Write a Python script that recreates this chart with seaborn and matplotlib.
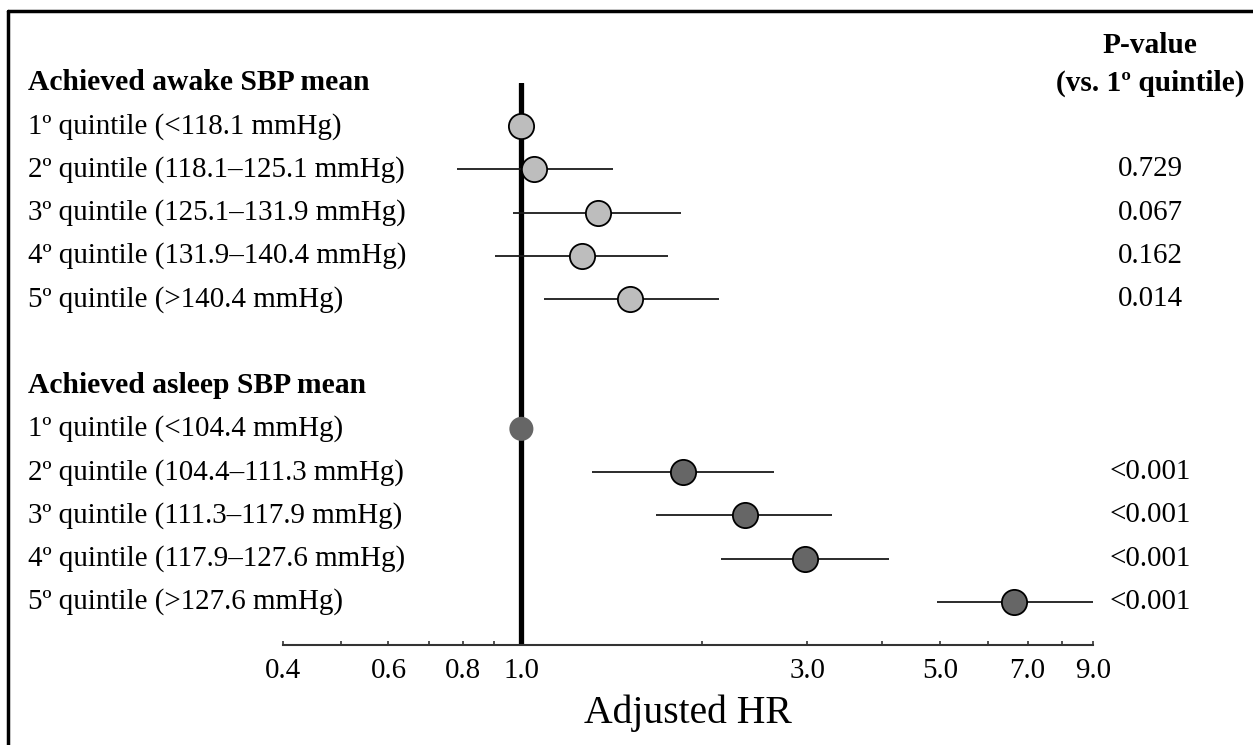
import numpy as np
import pandas as pd
import matplotlib
matplotlib.use('Agg')
import matplotlib.pyplot as plt
import matplotlib.transforms as mtransforms
from matplotlib.lines import Line2D
import seaborn as sns

# Data
awake_labels = ['1º quintile (<118.1 mmHg)', '2º quintile (118.1–125.1 mmHg)',
                '3º quintile (125.1–131.9 mmHg)', '4º quintile (131.9–140.4 mmHg)',
                '5º quintile (>140.4 mmHg)']
awake_hr = [1.00, 1.05, 1.34, 1.26, 1.52]
awake_lo = [np.nan, 0.78, 0.97, 0.905, 1.09]
awake_hi = [np.nan, 1.42, 1.85, 1.76, 2.14]
awake_p = ['', '0.729', '0.067', '0.162', '0.014']

asleep_labels = ['1º quintile (<104.4 mmHg)', '2º quintile (104.4–111.3 mmHg)',
                 '3º quintile (111.3–117.9 mmHg)', '4º quintile (117.9–127.6 mmHg)',
                 '5º quintile (>127.6 mmHg)']
asleep_hr = [1.00, 1.86, 2.36, 2.97, 6.64]
asleep_lo = [np.nan, 1.31, 1.68, 2.15, 4.94]
asleep_hi = [np.nan, 2.64, 3.30, 4.11, 9.0]
asleep_p = ['', '<0.001', '<0.001', '<0.001', '<0.001']

major_ticks = [0.4, 0.6, 0.8, 1.0, 3.0, 5.0, 7.0, 9.0]
minor_ticks = [0.5, 0.7, 0.9, 2.0, 4.0, 6.0, 8.0]

# build table: header rows at 0 and 7
df = pd.concat([
    pd.DataFrame({'label': awake_labels, 'hr': awake_hr, 'lo': awake_lo, 'hi': awake_hi,
                  'p': awake_p, 'group': 'awake', 'row': np.arange(1, 6)}),
    pd.DataFrame({'label': asleep_labels, 'hr': asleep_hr, 'lo': asleep_lo, 'hi': asleep_hi,
                  'p': asleep_p, 'group': 'asleep', 'row': np.arange(8, 13)}),
], ignore_index=True)

sns.set_theme(style='white')
plt.rcParams['font.family'] = ['Liberation Serif', 'DejaVu Serif']
plt.rcParams['text.color'] = 'black'
plt.rcParams['axes.labelcolor'] = 'black'
plt.rcParams['xtick.color'] = 'black'

fs = 20.9

fig = plt.figure(figsize=(12.53, 7.45), dpi=100)
ax = fig.add_axes([283 / 1253, 1 - 645 / 745, 810 / 1253, (645 - 83) / 745])

ax.set_xscale('log')
ax.set_xlim(0.4, 9.0)
ax.set_ylim(13, 0)

# reference line
ax.axvline(1.0, color='black', lw=3.8, zorder=1)

# CI lines
ci = df.dropna(subset=['lo'])
ax.hlines(ci['row'], ci['lo'], ci['hi'], color='#1a1a1a', lw=1.3, zorder=2)

# points
sns.scatterplot(data=df[df['group'] == 'awake'], x='hr', y='row', ax=ax, s=330,
                color='#bdbdbd', edgecolor='black', linewidth=1.3, zorder=3, legend=False)
sns.scatterplot(data=df[(df['group'] == 'asleep') & (df['row'] != 8)], x='hr', y='row', ax=ax,
                s=330, color='#666666', edgecolor='black', linewidth=1.3, zorder=3, legend=False)
sns.scatterplot(data=df[df['row'] == 8], x='hr', y='row', ax=ax,
                s=300, color='#666666', edgecolor='none', zorder=3, legend=False)

# axis styling
for side in ['top', 'left', 'right']:
    ax.spines[side].set_visible(False)
ax.spines['bottom'].set_color('#333333')
ax.spines['bottom'].set_linewidth(1.5)
ax.set_yticks([])
ax.set_ylabel('')
ax.set_xticks(major_ticks)
ax.set_xticklabels([f'{t:.1f}' for t in major_ticks])
ax.set_xticks(minor_ticks, minor=True)
ax.xaxis.set_minor_formatter(plt.NullFormatter())
ax.tick_params(axis='x', which='both', direction='in', length=3, width=1.2,
               color='#333333', bottom=True, labelsize=fs, pad=9, labelcolor='black')
ax.set_xlabel('Adjusted HR', fontsize=28.5, labelpad=8, color='black')

# left-side labels and p-values
tr = mtransforms.blended_transform_factory(fig.transFigure, ax.transData)
ax.text(28 / 1253, 0, 'Achieved awake SBP mean', transform=tr, fontsize=21.3,
        fontweight='bold', va='center', ha='left')
ax.text(28 / 1253, 7, 'Achieved asleep SBP mean', transform=tr, fontsize=21.3,
        fontweight='bold', va='center', ha='left')
for _, r in df.iterrows():
    ax.text(28 / 1253, r['row'], r['label'], transform=tr, fontsize=fs,
            va='center', ha='left')
    if r['p']:
        ax.text(1150 / 1253, r['row'], r['p'], transform=tr, fontsize=fs,
                va='center', ha='center')

ax.text(1150 / 1253, 0, '(vs. 1º quintile)', transform=tr, fontsize=21.2,
        fontweight='bold', va='center', ha='center')
ax.text(1150 / 1253, -0.87, 'P-value', transform=tr, fontsize=21.2,
        fontweight='bold', va='center', ha='center')

# frame lines on top and left edges
fig.add_artist(Line2D([8 / 1253, 1], [1 - 11 / 745, 1 - 11 / 745], transform=fig.transFigure,
                      color='black', lw=2.5))
fig.add_artist(Line2D([8 / 1253, 8 / 1253], [0, 1 - 11 / 745], transform=fig.transFigure,
                      color='black', lw=2.5))

fig.savefig('out.png', dpi=100)
